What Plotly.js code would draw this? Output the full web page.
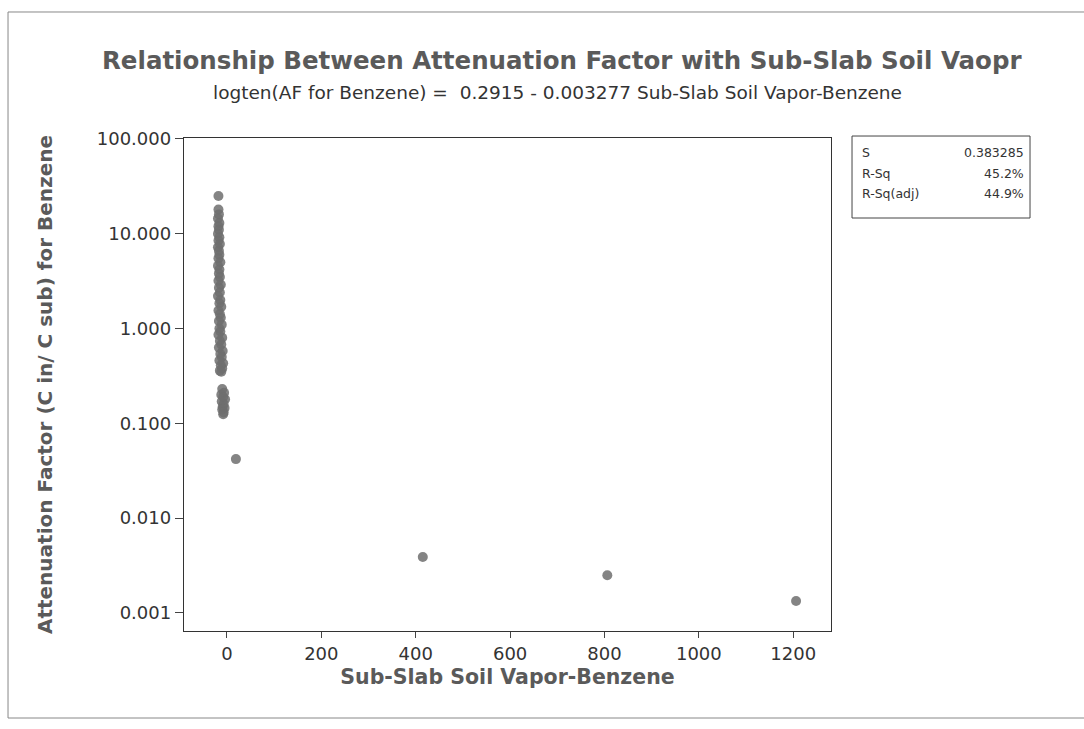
<!DOCTYPE html>
<html>
<head>
<meta charset="utf-8">
<script src="https://cdn.plot.ly/plotly-3.0.1.min.js"></script>
<style>html,body{margin:0;padding:0;background:#fff;}#chart{width:1084px;height:729px;}</style>
</head>
<body>
<div id="chart"></div>
<script>
// Sub-Slab Soil Vapor-Benzene (x) vs Attenuation Factor (y)
const subSlabVapor = [
  -18, -18, -17, -19, -16, -18, -17, -19, -16, -18, -15, -19, -17, -16, -18, -14,
  -19, -16, -17, -15, -18, -13, -17, -15, -19, -14, -16, -12, -18, -15, -13, -17,
  -11, -16, -14, -18, -10, -15, -12, -17, -9, -14, -11, -16, -8, -13, -10, -15, -12,
  -10, -6, -12, -8, -4, -11, -7, -9, -5, -10, -7, -8,
  19, 415, 806, 1206
];
const attenuationFactor = [
  25, 18, 16, 14.5, 13, 12, 11, 10, 9.2, 8.5, 7.8, 7.2, 6.6, 6.0, 5.5, 5.0,
  4.6, 4.2, 3.8, 3.5, 3.2, 2.9, 2.7, 2.4, 2.2, 2.0, 1.85, 1.7, 1.55, 1.42, 1.3, 1.2,
  1.1, 1.0, 0.93, 0.86, 0.8, 0.74, 0.68, 0.63, 0.58, 0.54, 0.5, 0.46, 0.43, 0.41, 0.38, 0.36, 0.35,
  0.23, 0.21, 0.2, 0.19, 0.18, 0.17, 0.16, 0.15, 0.145, 0.14, 0.13, 0.125,
  0.042, 0.0039, 0.0025, 0.00134
];
const yTickVals = [100, 10, 1, 0.1, 0.01, 0.001];
const yTickText = ["100.000", "10.000", "1.000", "0.100", "0.010", "0.001"];
const xTickVals = [0, 200, 400, 600, 800, 1000, 1200];
const statLabels = ["S", "R-Sq", "R-Sq(adj)"];
const statValues = ["0.383285", "45.2%", "44.9%"];

const FONT = "DejaVu Sans, Verdana, sans-serif";
const trace = {
  x: subSlabVapor, y: attenuationFactor, type: "scatter", mode: "markers",
  marker: {color: "rgba(110,110,110,0.85)", size: 10, line: {width: 0}},
  hoverinfo: "skip", showlegend: false
};

const statRowsY = [0.971, 0.929, 0.888];
const annotations = [
  {text: "Relationship Between Attenuation Factor with Sub-Slab Soil Vaopr", xref: "paper", yref: "paper",
   x: 0.585, y: 1.158, showarrow: false, xanchor: "center", yanchor: "middle",
   font: {family: FONT, size: 24.5, color: "#5a5a5a", weight: "bold"}},
  {text: "logten(AF for Benzene) =  0.2915 - 0.003277 Sub-Slab Soil Vapor-Benzene", xref: "paper", yref: "paper",
   x: 0.578, y: 1.093, showarrow: false, xanchor: "center", yanchor: "middle",
   font: {family: FONT, size: 18.5, color: "#333"}}
];
statLabels.forEach((lab, i) => {
  annotations.push({text: lab, xref: "paper", yref: "paper", x: 1.0448, y: statRowsY[i], showarrow: false,
    xanchor: "left", yanchor: "middle", font: {family: FONT, size: 12.5, color: "#333"}});
  annotations.push({text: statValues[i], xref: "paper", yref: "paper", x: 1.3014, y: statRowsY[i], showarrow: false,
    xanchor: "right", yanchor: "middle", font: {family: FONT, size: 12.5, color: "#333"}});
});

const layout = {
  width: 1084, height: 729,
  margin: {l: 184, r: 253, t: 138, b: 98},
  paper_bgcolor: "#fff", plot_bgcolor: "#fff",
  font: {family: FONT, color: "#333"},
  xaxis: {
    range: [-91, 1280], tickvals: xTickVals, ticks: "outside", ticklen: 6, tickcolor: "#444",
    showline: true, mirror: true, linecolor: "#333", linewidth: 1.2, showgrid: false, zeroline: false,
    tickfont: {family: FONT, size: 18, color: "#333"},
    title: {text: "Sub-Slab Soil Vapor-Benzene", standoff: 6, font: {family: FONT, size: 20.5, color: "#5a5a5a", weight: "bold"}}
  },
  yaxis: {
    type: "log", range: [-3.19, 2.01], tickvals: yTickVals, ticktext: yTickText,
    ticks: "outside", ticklen: 8, tickcolor: "#444",
    showline: true, mirror: true, linecolor: "#333", linewidth: 1.2, showgrid: false, zeroline: false,
    tickfont: {family: FONT, size: 18, color: "#333"},
    title: {text: "Attenuation Factor (C in/ C sub) for Benzene", standoff: 38, font: {family: FONT, size: 20, color: "#5a5a5a", weight: "bold"}}
  },
  shapes: [
    {type: "rect", xref: "paper", yref: "paper", x0: 1.0325, x1: 1.3076, y0: 0.8377, y1: 1.004,
     line: {color: "#444", width: 1}},
    {type: "rect", xref: "paper", yref: "paper", x0: -0.272, x1: 1.45, y0: -0.1765, y1: 1.2556,
     line: {color: "#888", width: 1}}
  ],
  annotations: annotations
};

Plotly.newPlot("chart", [trace], layout, {displayModeBar: false, staticPlot: true});
</script>
</body>
</html>
